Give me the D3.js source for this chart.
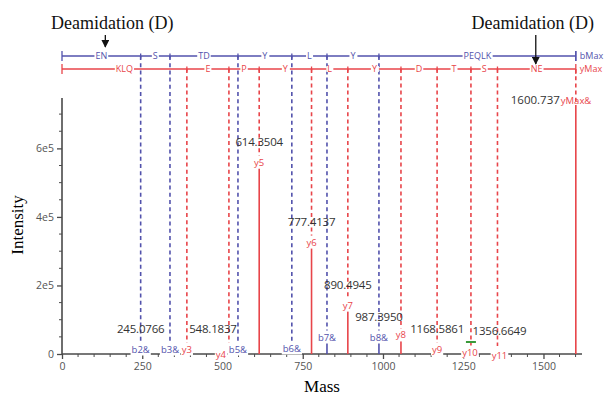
<!DOCTYPE html>
<html><head><meta charset="utf-8">
<script src="https://cdn.jsdelivr.net/npm/d3@7/dist/d3.min.js"></script>
<style>body{margin:0;background:#fff}svg{display:block}</style>
</head><body>
<svg id="c" width="610" height="399"></svg>
<script>
// ---- data ----
const bNames = ["b2&","b3&","b5&","b6&","b7&","b8&"];
const bMasses = [245.0766, 336.4, 548.1837, 716, 825.5, 987.395];
const bIntensities = [0, 0, 0, 0, 35000, 35000];
const yNames = ["y3","y4","y5","y6","y7","y8","y9","y10","y11","yMax&"];
const yMasses = [389, 520, 614.3504, 777.4137, 890.4945, 1056, 1168.5861, 1274, 1356.6649, 1600.737];
const yIntensities = [0, 0, 545000, 312000, 128000, 41000, 0, 0, 0, 715000];
const maxMass = 1600.737;
const bResidues = ["EN","S","TD","Y","L","Y","PEQLK"];
const yResidues = ["KLQ","E","P","Y","L","Y","D","T","S","NE"];
const massLabelIons = ["b2&","b5&","y5","y6","y7","b8&","y9","y11","yMax&"];
const massLabelTexts = ["245.0766","548.1837","614.3504","777.4137","890.4945","987.3950","1168.5861","1356.6649","1600.737"];
const xTicks = [0,250,500,750,1000,1250,1500];
const yTicks = [0,200000,400000,600000];
const yTickLabels = ["0","2e5","4e5","6e5"];
const markerMass = 1274, markerIntensity = 35000;
const annotations = ["Deamidation (D)","Deamidation (D)"];
const annotationMasses = [135, 1476];

// ---- layout ----
const svg = d3.select("#c");
const x = d3.scaleLinear().domain([0,1620]).range([62,582]);
const y = d3.scaleLinear().domain([0,747000]).range([354,98]);
const BLUE = "#5252ac", RED = "#e8454a", AX = "#4a4a4a";
const blueY = 56, redY = 69;
const tickFont = "'Open Sans', 'DejaVu Sans', sans-serif";

// axes
const gx = svg.append("g").attr("transform","translate(0,354)");
gx.call(d3.axisBottom(x).tickValues(xTicks).tickSize(5).tickPadding(4).tickFormat(d3.format("d")));
gx.select(".domain").remove();
gx.selectAll("line").attr("stroke",AX).attr("stroke-width",1.3);
gx.selectAll("text").attr("font-family",tickFont).attr("font-size",10.5).attr("fill","#555");
gx.append("g").selectAll("line").data(d3.range(50,1620,50).filter(v=>v%250)).join("line")
  .attr("x1",d=>x(d)).attr("x2",d=>x(d)).attr("y1",0).attr("y2",3).attr("stroke",AX).attr("stroke-width",1);
const gy = svg.append("g").attr("transform","translate(62,0)");
gy.call(d3.axisLeft(y).tickValues(yTicks).tickSize(5).tickPadding(3).tickFormat((d,i)=>yTickLabels[i]));
gy.select(".domain").remove();
gy.selectAll("line").attr("stroke",AX).attr("stroke-width",1.3);
gy.selectAll("text").attr("font-family",tickFont).attr("font-size",10.5).attr("fill","#555");
gy.append("g").selectAll("line").data(d3.range(50000,747000,50000).filter(v=>v%200000)).join("line")
  .attr("x1",0).attr("x2",-3).attr("y1",d=>y(d)).attr("y2",d=>y(d)).attr("stroke",AX).attr("stroke-width",1);
svg.append("line").attr("x1",x(0)).attr("x2",x(1620)).attr("y1",y(0)).attr("y2",y(0)).attr("stroke",AX).attr("stroke-width",1.6);
svg.append("line").attr("x1",x(0)).attr("x2",x(0)).attr("y1",y(0)).attr("y2",y(747000)).attr("stroke",AX).attr("stroke-width",1.6);

// axis titles
const serif = "'Liberation Serif','DejaVu Serif',serif";
svg.append("text").attr("x",322).attr("y",392).attr("text-anchor","middle").attr("font-family",serif).attr("font-size",17).text("Mass");
svg.append("text").attr("transform","translate(23,225) rotate(-90)").attr("text-anchor","middle").attr("font-family",serif).attr("font-size",17).text("Intensity");

// ion records
const bIons = bNames.map((n,i)=>({name:n,mass:bMasses[i],inten:bIntensities[i],color:BLUE,top:blueY}));
const yIons = yNames.map((n,i)=>({name:n,mass:yMasses[i],inten:yIntensities[i],color:RED,top:redY}));
const ions = bIons.concat(yIons);

// dashed + solid lines
const gl = svg.append("g");
ions.forEach(d=>{
  const obs = d.inten>0;
  const yEnd = obs ? y(d.inten) : y(0)-8;
  gl.append("line").attr("x1",x(d.mass)).attr("x2",x(d.mass)).attr("y1",d.top).attr("y2",yEnd)
    .attr("stroke",d.color).attr("stroke-width",1.6).attr("stroke-dasharray","4,3.2");
  if(obs) gl.append("line").attr("x1",x(d.mass)).attr("x2",x(d.mass)).attr("y1",y(d.inten)).attr("y2",y(0))
    .attr("stroke",d.color).attr("stroke-width",1.6);
});
// green marker
svg.append("line").attr("x1",x(markerMass)-5).attr("x2",x(markerMass)+5).attr("y1",y(markerIntensity)).attr("y2",y(markerIntensity))
  .attr("stroke","#3a9a3a").attr("stroke-width",2);

// ladders
function ladder(yy, bounds, residues, color, endLabel){
  const g = svg.append("g");
  g.append("line").attr("x1",x(bounds[0])).attr("x2",x(bounds[bounds.length-1])).attr("y1",yy).attr("y2",yy).attr("stroke",color).attr("stroke-width",1.3);
  bounds.forEach((b,i)=>{
    const end = (i===0||i===bounds.length-1);
    g.append("line").attr("x1",x(b)).attr("x2",x(b)).attr("y1",yy-(end?5:2.5)).attr("y2",yy+(end?5:2.5)).attr("stroke",color).attr("stroke-width",1.3);
  });
  residues.forEach((r,i)=>{
    const cx = (x(bounds[i])+x(bounds[i+1]))/2;
    const t = g.append("text").attr("x",cx).attr("y",yy+3.2).attr("text-anchor","middle")
      .attr("font-family",tickFont).attr("font-size",9).attr("fill",color).text(r);
    const bb = t.node().getBBox();
    g.insert("rect","text").attr("x",bb.x-1).attr("y",yy-3).attr("width",bb.width+2).attr("height",6).attr("fill","#fff");
  });
  g.append("text").attr("x",x(bounds[bounds.length-1])+4).attr("y",yy+3.2).attr("font-family",tickFont)
    .attr("font-size",9).attr("fill",color).text(endLabel);
}
ladder(blueY, [0].concat(bMasses,[maxMass]), bResidues, BLUE, "bMax");
ladder(redY, [0].concat(yMasses), yResidues, RED, "yMax");
svg.append("line").attr("x1",x(maxMass)).attr("x2",x(maxMass)).attr("y1",blueY-5).attr("y2",blueY+5).attr("stroke",BLUE).attr("stroke-width",1.3);

// ion labels (with white background)
const nudge = {"y4":[-8,5],"y10":[-1,3],"y11":[2,6],"b6&":[0,-1]};
const gi = svg.append("g");
ions.forEach(d=>{
  if(d.name==="yMax&") return;
  const n = nudge[d.name]||[0,0];
  const t = gi.append("text").attr("x",x(d.mass)+n[0]).attr("y",y(d.inten)-5+n[1]+3.5).attr("text-anchor","middle")
    .attr("font-family",tickFont).attr("font-size",9.5).attr("fill",d.color).text(d.name);
  const bb = t.node().getBBox();
  gi.insert("rect","text").attr("x",bb.x-1).attr("y",bb.y).attr("width",bb.width+2).attr("height",bb.height).attr("fill","#fff");
});
gi.selectAll("text").raise();

// mass labels
const massOffsets = {"548.1837":-25,"1356.6649":2};
massLabelIons.forEach((nm,i)=>{
  const d = ions.find(o=>o.name===nm);
  if(nm==="yMax&"){
    svg.append("text").attr("x",x(d.mass)-16).attr("y",y(d.inten)-5).attr("text-anchor","end")
      .attr("font-family",tickFont).attr("font-size",11.5).attr("fill","#333").text(massLabelTexts[i]);
    svg.append("text").attr("x",x(d.mass)-15).attr("y",y(d.inten)-5).attr("font-family",tickFont)
      .attr("font-size",9.5).attr("fill",RED).text("yMax&");
    return;
  }
  const dy = (nm==="y11") ? 2 : 0;
  svg.append("text").attr("x",x(d.mass)+(massOffsets[massLabelTexts[i]]||0)).attr("y",y(d.inten)-25+4+dy)
    .attr("text-anchor","middle").attr("font-family",tickFont).attr("font-size",11.5).attr("fill","#333")
    .attr("letter-spacing",-0.2).text(massLabelTexts[i]);
});

// annotations
const defs = svg.append("defs");
defs.append("marker").attr("id","ah").attr("viewBox","0 0 10 10").attr("refX",9).attr("refY",5)
  .attr("markerWidth",6).attr("markerHeight",6).attr("orient","auto")
  .append("path").attr("d","M0,0L10,5L0,10z").attr("fill","#111");
annotations.forEach((a,i)=>{
  const ax = x(annotationMasses[i]);
  svg.append("text").attr("x",ax+(i===0?7:-3)).attr("y",29).attr("text-anchor","middle").attr("font-family",serif)
    .attr("font-size",18).attr("fill","#111").text(a);
  svg.append("line").attr("x1",ax).attr("x2",ax).attr("y1",35).attr("y2",i===0?47:64)
    .attr("stroke","#111").attr("stroke-width",1.3).attr("marker-end","url(#ah)");
});
</script>
</body></html>
